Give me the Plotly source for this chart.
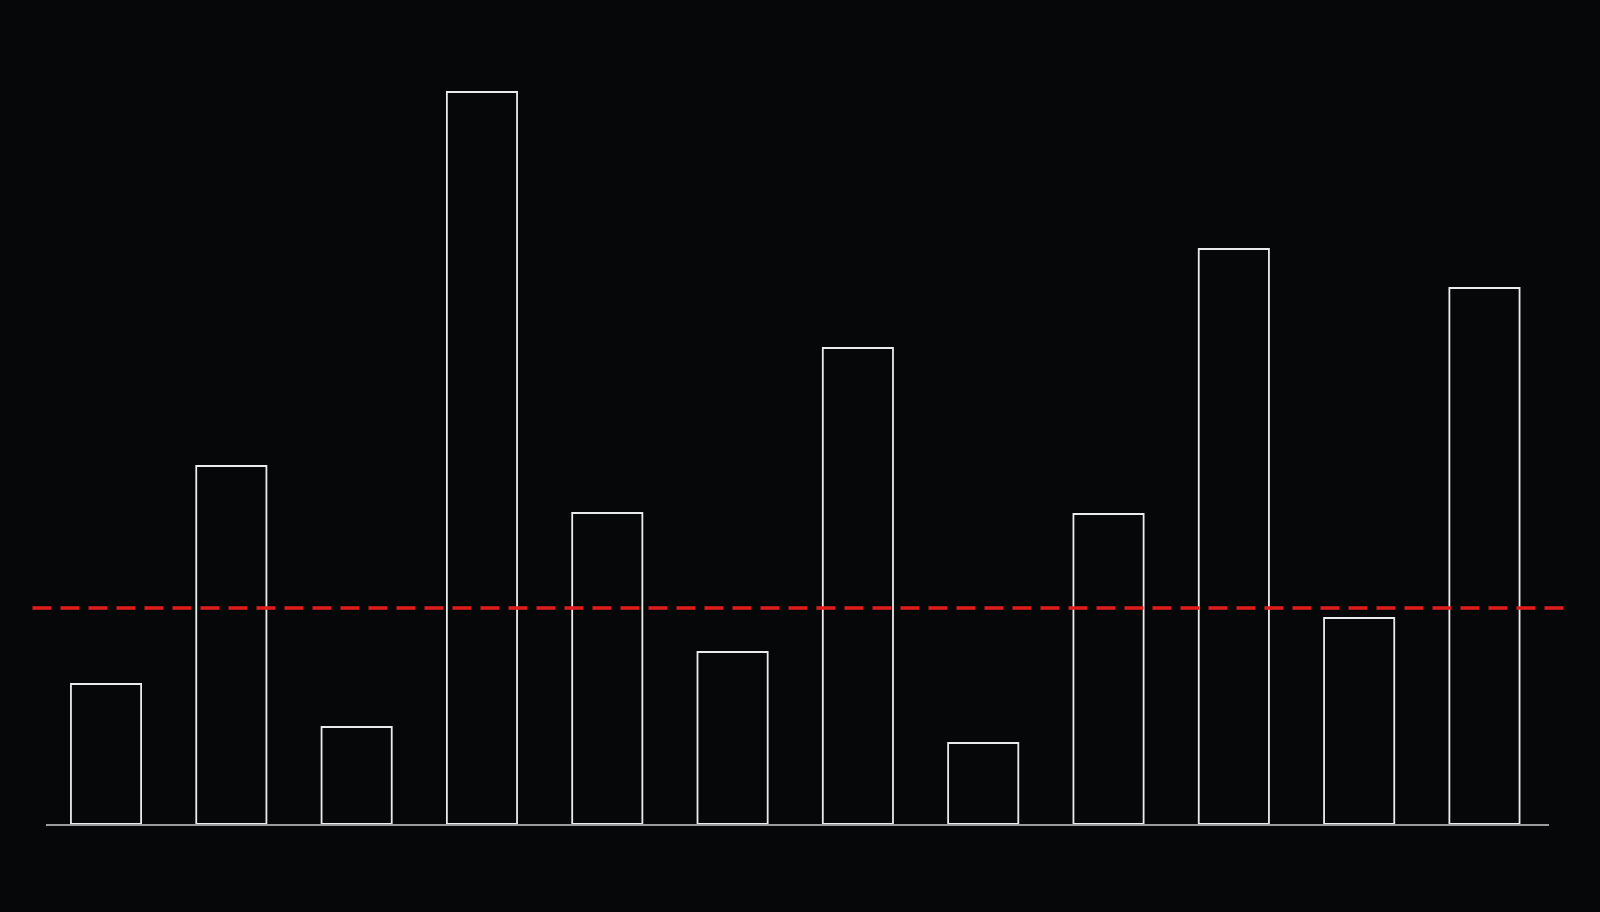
import plotly.graph_objects as go

# values (1 unit = 20 px)
categories = ["A", "B", "C", "D", "E", "F", "G", "H", "I", "J", "K", "L"]
values = [7.0, 17.9, 4.85, 36.6, 15.55, 8.6, 23.8, 4.05, 15.5, 28.75, 10.3, 26.8]
threshold = 10.8

bg = "#060709"

fig = go.Figure()
fig.add_trace(go.Bar(
    x=categories, y=values,
    marker=dict(color=bg, line=dict(color="#ebebeb", width=1.8)),
    hoverinfo="x+y",
))

# dashed threshold line, runs a little past the plot area on both sides
fig.add_shape(type="line", xref="paper", yref="y",
              x0=-0.009, x1=1.014, y0=threshold, y1=threshold,
              line=dict(color="#e21c1c", width=3.5, dash="19px,9px"))

fig.update_layout(
    width=1600, height=912,
    margin=dict(l=46, r=51, t=64, b=88),
    paper_bgcolor=bg, plot_bgcolor=bg,
    bargap=0.44,
    showlegend=False,
)
fig.update_xaxes(showgrid=False, zeroline=False, showticklabels=False,
                 showline=True, linecolor="#9c9c9c", linewidth=2,
                 range=[-0.479, 11.515])
fig.update_yaxes(showgrid=False, zeroline=False, showticklabels=False,
                 showline=False, range=[0, 38])

# drop the default page margin so the dark figure fills the window
page_fix = ("document.body.style.margin='0';"
            "document.body.style.overflow='hidden';"
            "document.body.style.background='%s';" % bg)

fig.write_html("out.html", post_script=page_fix,
               config={"displayModeBar": False})
